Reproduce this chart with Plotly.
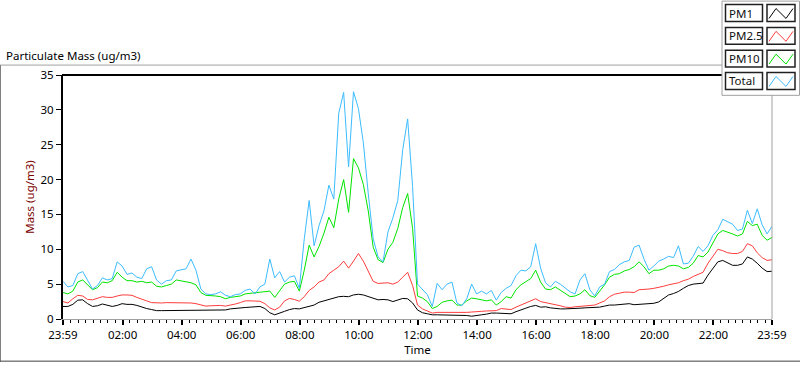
import plotly.graph_objects as go
import pandas as pd

# ---------------- data (10-minute samples, 23:59 -> 23:59) ----------------
START = "2020-01-01 23:59"
N_POINTS = 145
times = pd.date_range(START, periods=N_POINTS, freq="10min")

pm1 = [1.8, 1.8, 2.1, 2.7, 2.75, 2.2, 1.8, 1.9, 2.15, 2.0,
       1.8, 1.95, 2.2, 2.1, 2.1, 1.95, 1.7, 1.5, 1.35, 1.2,
       1.2, 1.2, 1.3, 1.3, 1.3, 1.3, 1.3, 1.2, 1.2, 1.2,
       1.2, 1.2, 1.2, 1.3, 1.45, 1.55,
       1.55, 1.65, 1.7, 1.75, 1.8, 1.5, 0.9, 0.6, 0.8, 1.1,
       1.35, 1.5, 1.45, 1.6, 1.8, 2.0, 2.4, 2.6, 2.85, 3.0,
       3.2, 3.25, 3.2, 3.45, 3.55, 3.45, 3.2, 2.9, 2.75, 2.8,
       2.75, 2.5, 2.7, 2.95, 2.9, 2.3,
       1.3, 0.9, 0.75, 0.6, 0.6, 0.6, 0.6, 0.55, 0.5, 0.5,
       0.5, 0.4, 0.55, 0.6, 0.7, 0.85, 0.85, 0.85, 0.8, 0.75,
       1.05, 1.35, 1.55, 1.8, 1.95, 1.7, 1.75, 1.6, 1.5, 1.45,
       1.45, 1.45, 1.5, 1.55, 1.6, 1.65,
       1.6, 1.7, 1.85, 2.0, 2.0, 2.05, 2.15, 2.2, 2.05, 2.1,
       2.2, 2.2, 2.25, 2.45, 3.0, 3.45, 3.65, 3.95, 4.4, 4.8,
       5.0, 5.1, 5.15, 6.3, 7.3, 8.2, 8.4, 8.0, 7.7, 7.7,
       7.9, 8.9, 8.6, 8.0, 7.3, 6.8, 6.85]

pm25 = [2.5, 2.3, 2.9, 3.4, 3.3, 2.8, 2.75, 3.0, 3.2, 3.1,
        3.1, 3.3, 3.45, 3.45, 3.4, 3.1, 2.9, 2.6, 2.35, 2.3,
        2.3, 2.35, 2.35, 2.35, 2.35, 2.35, 2.3, 2.2, 2.05, 1.85,
        1.9, 1.95, 1.95, 1.85, 1.95, 2.15,
        2.35, 2.6, 2.6, 2.6, 2.55, 2.2, 1.6, 1.3, 1.7, 2.6,
        2.95, 2.8, 2.55, 3.2, 4.1, 4.6, 5.3, 5.6, 6.5, 7.0,
        7.5, 8.3, 7.3, 8.3, 9.4, 8.3, 6.8, 5.4, 5.1, 5.2,
        5.2, 5.0, 5.3, 6.0, 6.7, 4.8,
        2.0, 1.45, 1.1, 0.85, 0.95, 0.95, 0.9, 0.9, 0.85, 0.9,
        0.95, 1.0, 1.1, 1.1, 1.15, 1.2, 1.2, 1.5, 1.45, 1.35,
        1.7, 2.0, 2.3, 2.6, 2.9, 2.5, 2.35, 2.3, 2.1, 1.9,
        1.7, 1.65, 1.75, 1.8, 1.9, 2.0,
        2.0, 2.3, 2.6, 3.2, 3.55, 3.7, 3.85, 3.85, 3.8, 4.2,
        4.2, 4.3, 4.4, 4.5, 4.7, 4.9, 5.0, 5.2, 5.5, 5.7,
        6.1, 6.4, 6.7, 8.0, 9.1, 10.0, 9.8, 9.5, 9.4, 9.4,
        9.7, 10.8, 10.5, 9.5, 8.8, 8.4, 8.5]

pm10 = [3.8, 3.6, 4.0, 5.3, 5.6, 4.9, 4.2, 4.5, 5.3, 5.2,
        5.5, 6.7, 6.0, 5.5, 5.5, 5.3, 5.4, 5.2, 5.3, 4.7,
        4.6, 4.8, 5.0, 5.6, 5.5, 5.3, 5.2, 4.9, 3.8, 3.4,
        3.4, 3.3, 3.2, 2.9, 3.1, 3.2,
        3.3, 3.6, 3.7, 3.7, 3.8, 4.0, 4.0, 3.1, 4.0, 5.0,
        5.3, 5.4, 4.0, 7.0, 10.6, 8.9, 10.4, 12.3, 14.6, 13.1,
        17.2, 20.0, 15.3, 23.0, 21.7, 19.3, 15.5, 10.3, 8.5, 8.1,
        10.0, 11.0, 13.0, 16.0, 18.0, 13.0,
        3.3, 3.0, 2.5, 1.5, 1.8, 2.4, 2.6, 2.7, 2.0, 2.0,
        2.6, 3.0, 2.9, 2.8, 2.6, 2.75, 2.0, 2.5, 3.2, 3.0,
        4.2, 4.9, 5.4, 5.8, 7.0, 5.3, 4.3, 4.2, 4.6, 4.1,
        3.6, 3.2, 3.3, 3.6, 4.2, 3.35,
        3.1, 4.0, 4.9, 6.0, 6.4, 6.5, 6.9, 7.1, 7.5, 8.2,
        7.5, 6.5, 7.0, 7.0, 7.2, 7.6, 7.7, 7.6, 7.2, 7.4,
        8.0, 9.1, 8.9, 9.6, 10.9, 12.2, 12.7, 12.5, 12.2, 11.9,
        12.2, 14.0, 13.4, 13.6, 12.0, 11.3, 11.7]

total = [5.4, 4.6, 4.8, 6.5, 6.8, 5.5, 4.3, 4.8, 5.9, 5.6,
         5.8, 8.2, 7.6, 6.4, 6.6, 6.0, 5.8, 7.2, 7.5, 5.6,
         5.0, 5.5, 5.6, 6.9, 7.0, 7.2, 8.6, 7.0, 4.3, 3.6,
         3.5, 3.6, 3.9, 3.4, 3.2, 3.5,
         3.6, 4.1, 4.3, 3.6, 4.6, 5.0, 8.6, 5.9, 6.8, 5.3,
         6.0, 6.2, 4.4, 11.5, 17.0, 10.5, 13.4, 15.5, 19.2, 17.2,
         29.5, 32.5, 21.8, 32.6, 30.2, 25.3, 18.0, 11.5, 8.9, 8.2,
         12.5, 14.5, 17.0, 24.3, 28.7, 19.0,
         5.0, 4.2, 3.5, 1.8, 5.1, 4.2, 5.0, 5.3, 2.3, 1.9,
         2.9, 5.0, 3.6, 4.0, 3.6, 4.1, 2.7, 3.8, 4.4, 4.8,
         6.2, 7.0, 6.9, 7.5, 10.8, 7.3, 5.2, 4.6, 5.4, 5.0,
         4.4, 3.9, 3.6, 5.6, 6.5, 4.2,
         3.3, 4.6, 5.0, 6.8, 7.1, 7.8, 8.2, 8.4, 10.3, 10.6,
         8.6, 7.0, 7.6, 8.3, 8.6, 9.0, 8.8, 10.5, 7.9, 8.0,
         9.0, 10.4, 9.7, 10.5, 12.0, 12.8, 14.3, 14.0, 13.6, 12.7,
         12.9, 15.6, 13.7, 15.8, 13.5, 12.2, 13.3]

series_names = ["PM1", "PM2.5", "PM10", "Total"]
series_values = [pm1, pm25, pm10, total]
series_colors = ["#000000", "#ff3c3c", "#00e400", "#3cbcff"]

x_tick_vals = (["2020-01-01 23:59"]
               + [f"2020-01-02 {h:02d}:00" for h in range(2, 24, 2)]
               + ["2020-01-02 23:59"])
x_tick_text = ["23:59", "02:00", "04:00", "06:00", "08:00", "10:00", "12:00",
               "14:00", "16:00", "18:00", "20:00", "22:00", "23:59"]
y_tick_vals = [0, 5, 10, 15, 20, 25, 30, 35]

# ---------------- layout geometry (pixels) ----------------
W, H = 800, 365
PL, PR, PT, PB = 63, 772, 75, 321   # plot area edges


def px(x):
    return (x - PL) / (PR - PL)


def py(y):
    return (PB - y) / (PB - PT)


FONT = "Noto Sans"

fig = go.Figure()
for name, vals, col in zip(series_names, series_values, series_colors):
    fig.add_trace(go.Scatter(x=times, y=vals, name=name, mode="lines",
                             line=dict(color=col, width=1)))

shapes = []
# outer panel frame
shapes.append(dict(type="line", xref="paper", yref="paper",
                   x0=px(0), x1=px(722), y0=py(65), y1=py(65),
                   line=dict(color="#a0a0a0", width=1)))
shapes.append(dict(type="line", xref="paper", yref="paper",
                   x0=px(0.5), x1=px(0.5), y0=py(65), y1=py(364),
                   line=dict(color="#808080", width=1)))
shapes.append(dict(type="line", xref="paper", yref="paper",
                   x0=px(0), x1=px(800), y0=py(363.5), y1=py(363.5),
                   line=dict(color="#404040", width=1)))
# plot frame: top black, right grey
shapes.append(dict(type="line", xref="paper", yref="paper",
                   x0=px(62), x1=px(722), y0=1, y1=1,
                   line=dict(color="#000000", width=2)))
shapes.append(dict(type="line", xref="paper", yref="paper",
                   x0=1, x1=1, y0=0, y1=1,
                   line=dict(color="#a0a0a0", width=1)))
# legend box
shapes.append(dict(type="rect", xref="paper", yref="paper",
                   x0=px(722), x1=px(799.5), y0=py(0.5), y1=py(95.5),
                   line=dict(color="#a0a0a0", width=1), fillcolor="white"))

annotations = []
row_top = [4, 27, 50, 72.5]
for name, col, top in zip(series_names, series_colors, row_top):
    bot = top + 17
    shapes.append(dict(type="rect", xref="paper", yref="paper",
                       x0=px(725.5), x1=px(762.5), y0=py(top), y1=py(bot),
                       line=dict(color="#202020", width=1.5), fillcolor="white"))
    shapes.append(dict(type="rect", xref="paper", yref="paper",
                       x0=px(767), x1=px(795), y0=py(top), y1=py(bot),
                       line=dict(color="#202020", width=1.5), fillcolor="white"))
    zx = [769, 776, 786, 793]
    zy = [bot - 3, top + 4, bot - 3, top + 4]
    path = "M " + " L ".join(f"{px(a)},{py(b)}" for a, b in zip(zx, zy))
    shapes.append(dict(type="path", xref="paper", yref="paper", path=path,
                       line=dict(color=col, width=1)))
    annotations.append(dict(xref="paper", yref="paper", x=px(727),
                            y=py(top + 8.5), xanchor="left", yanchor="middle",
                            text=name, showarrow=False,
                            font=dict(family=FONT, size=11.5, color="#101010")))

annotations.append(dict(xref="paper", yref="paper", x=px(4), y=py(55),
                        xanchor="left", yanchor="middle",
                        text="Particulate Mass (ug/m3)", showarrow=False,
                        font=dict(family=FONT, size=11.5, color="#000000")))

fig.update_layout(
    width=W, height=H,
    margin=dict(l=PL, r=W - PR, t=PT, b=H - PB, pad=0),
    paper_bgcolor="white", plot_bgcolor="white",
    showlegend=False,
    font=dict(family=FONT, size=11.5, color="#000000"),
    shapes=shapes, annotations=annotations,
)
fig.update_xaxes(
    range=[x_tick_vals[0], x_tick_vals[-1]],
    tickmode="array", tickvals=x_tick_vals, ticktext=x_tick_text,
    ticks="outside", ticklen=5, tickwidth=2, tickcolor="#000000",
    minor=dict(ticks="outside", ticklen=3, tickwidth=1, tickcolor="#000000",
               dtick=15 * 60 * 1000, tick0="2020-01-02 00:00", showgrid=False),
    showgrid=False, zeroline=False,
    showline=True, linecolor="#a0a0a0", linewidth=1,
    title=dict(text="Time", font=dict(family=FONT, size=11.5), standoff=3),
)
fig.update_yaxes(
    range=[0, 35], tickmode="array", tickvals=y_tick_vals,
    ticks="outside", ticklen=5, tickwidth=1, tickcolor="#000000",
    showgrid=False, zeroline=False,
    showline=True, linecolor="#000000", linewidth=2,
    title=dict(text="Mass (ug/m3)", font=dict(family=FONT, size=11.5, color="#7a0000"),
               standoff=4),
)

fig.write_html("out.html",
               config={"displayModeBar": False},
               post_script="document.body.style.margin='0';"
                           "document.body.style.overflow='hidden';")
